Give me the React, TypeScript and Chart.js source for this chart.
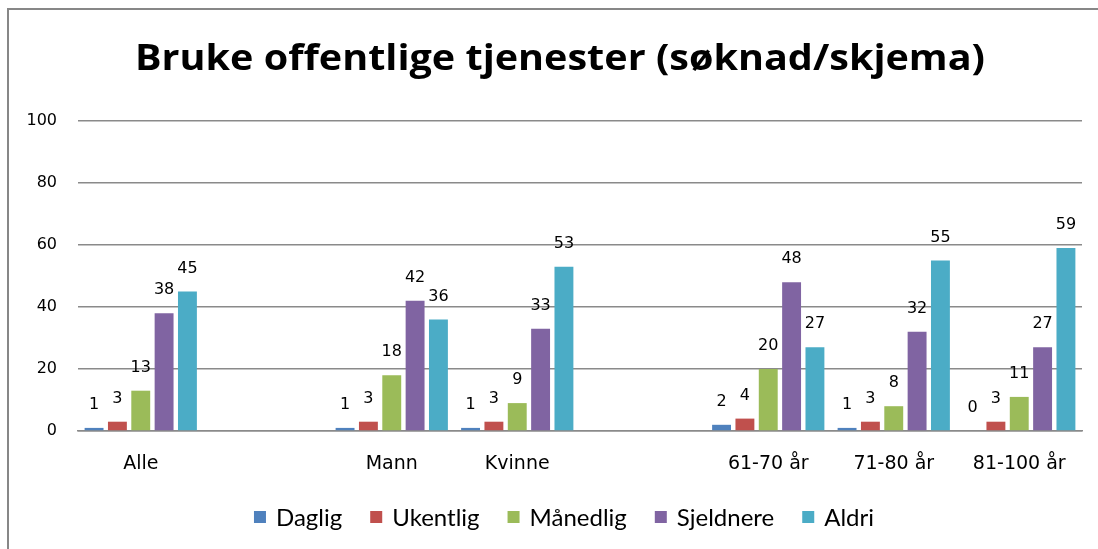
import React, { useEffect, useRef } from "react";
import { Chart, registerables } from "chart.js";

Chart.register(...registerables);

const titleText = "Bruke offentlige tjenester (søknad/skjema)";
const categories = ["Alle", "", "Mann", "Kvinne", "", "61-70 år", "71-80 år", "81-100 år"];
const seriesNames = ["Daglig", "Ukentlig", "Månedlig", "Sjeldnere", "Aldri"];
const seriesColors = ["#4F81BD", "#C0504D", "#9BBB59", "#8064A2", "#4BACC6"];
const daglig = [1, null, 1, 1, null, 2, 1, 0];
const ukentlig = [3, null, 3, 3, null, 4, 3, 3];
const maanedlig = [13, null, 18, 9, null, 20, 8, 11];
const sjeldnere = [38, null, 42, 33, null, 48, 32, 27];
const aldri = [45, null, 36, 53, null, 27, 55, 59];
const yTicks = [0, 20, 40, 60, 80, 100];

const FONT = "'DejaVu Sans', sans-serif";
const LEGEND_FONT = "Lato, 'DejaVu Sans', sans-serif";
const TITLE_FONT = "'Open Sans', Lato, sans-serif";

const framePlugin = {
  id: "frame",
  beforeDraw(chart: any) {
    const ctx = chart.ctx;
    ctx.save();
    ctx.fillStyle = "#ffffff";
    ctx.fillRect(0, 0, chart.width, chart.height);
    ctx.strokeStyle = "#878787";
    ctx.lineWidth = 2;
    ctx.beginPath();
    ctx.moveTo(8, chart.height);
    ctx.lineTo(8, 9);
    ctx.lineTo(chart.width, 9);
    ctx.stroke();
    // title, fitted to the reference width
    ctx.fillStyle = "#000000";
    ctx.font = "bold 35px " + TITLE_FONT;
    ctx.textAlign = "center";
    ctx.textBaseline = "alphabetic";
    const w = ctx.measureText(titleText).width;
    const target = 850;
    ctx.translate(560, 70);
    ctx.scale(target / w, 1);
    ctx.fillText(titleText, 0, 0);
    ctx.restore();
  },
};

const legendPlugin = {
  id: "customLegend",
  afterDraw(chart: any) {
    const ctx = chart.ctx;
    ctx.save();
    ctx.font = "24px " + LEGEND_FONT;
    ctx.textBaseline = "middle";
    ctx.textAlign = "left";
    const box = 12;
    const boxGap = 10;
    const itemGap = 28;
    const items = chart.data.datasets.map((ds: any) => ({
      label: ds.label,
      color: ds.backgroundColor,
      w: box + boxGap + ctx.measureText(ds.label).width,
    }));
    const total = items.reduce((s: number, it: any) => s + it.w, 0) + itemGap * (items.length - 1);
    let x = 564 - total / 2;
    const y = 517;
    items.forEach((it: any) => {
      ctx.fillStyle = it.color;
      ctx.fillRect(x, y - box / 2, box, box);
      ctx.fillStyle = "#000000";
      ctx.fillText(it.label, x + box + boxGap, y + 1);
      x += it.w + itemGap;
    });
    ctx.restore();
  },
};

const labelPlugin = {
  id: "valueLabels",
  afterDatasetsDraw(chart: any) {
    const ctx = chart.ctx;
    ctx.save();
    ctx.fillStyle = "#000000";
    ctx.font = "16px " + FONT;
    ctx.textAlign = "center";
    ctx.textBaseline = "middle";
    chart.data.datasets.forEach((ds: any, i: number) => {
      const meta = chart.getDatasetMeta(i);
      meta.data.forEach((el: any, j: number) => {
        const v = ds.data[j];
        if (v === null || v === undefined) return;
        ctx.fillText(String(v), el.x, el.y - 23);
      });
    });
    ctx.restore();
  },
};

export default function App() {
  const ref = useRef<HTMLCanvasElement | null>(null);
  useEffect(() => {
    if (!ref.current) return;
    const values = [daglig, ukentlig, maanedlig, sjeldnere, aldri];
    const chart = new Chart(ref.current, {
      type: "bar",
      data: {
        labels: categories,
        datasets: seriesNames.map((name, i) => ({
          label: name,
          data: values[i],
          backgroundColor: seriesColors[i],
          borderWidth: 0,
          categoryPercentage: 0.93,
          barPercentage: 0.81,
        })),
      },
      options: {
        animation: false,
        responsive: false,
        layout: { padding: { top: 121, right: 16, bottom: 70, left: 0 } },
        plugins: {
          title: { display: false },
          tooltip: { enabled: false },
          legend: { display: false },
        },
        scales: {
          x: {
            grid: { display: false },
            border: { display: true, color: "#8a8a8a", width: 1.5 },
            ticks: {
              color: "#000000",
              font: { family: FONT, size: 19 },
              padding: 14,
              maxRotation: 0,
              autoSkip: false,
            },
            afterFit(scale: any) {
              scale.height = 48;
            },
          },
          y: {
            min: 0,
            max: 100,
            afterBuildTicks(scale: any) {
              scale.ticks = yTicks.map((v) => ({ value: v }));
            },
            grid: { color: "#8a8a8a", lineWidth: 1.5, drawTicks: false },
            border: { display: false },
            ticks: {
              color: "#000000",
              font: { family: FONT, size: 16 },
              padding: 21,
            },
            afterFit(scale: any) {
              scale.width = 78;
            },
          },
        },
      },
      plugins: [framePlugin, labelPlugin, legendPlugin],
    });
    return () => chart.destroy();
  }, []);
  return (
    <div style={{ position: "absolute", left: 0, top: 0, width: 1098, height: 549 }}>
      <canvas ref={ref} width={1098} height={549} style={{ display: "block" }} />
    </div>
  );
}
